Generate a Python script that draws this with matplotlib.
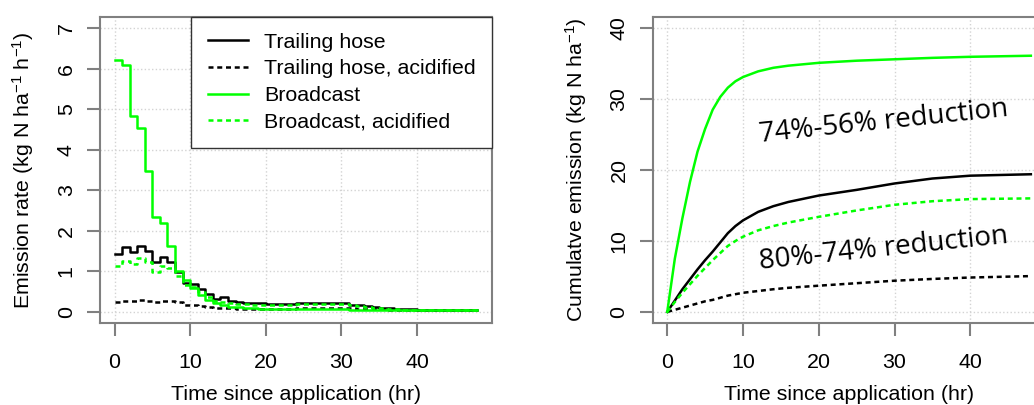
import numpy as np
import matplotlib
matplotlib.use("Agg")
import matplotlib.pyplot as plt

plt.rcParams['font.family'] = ['Liberation Sans', 'DejaVu Sans']
plt.rcParams['mathtext.fontset'] = 'custom'
plt.rcParams['mathtext.rm'] = 'Liberation Sans'
plt.rcParams['mathtext.it'] = 'Liberation Sans:italic'

# Hourly emission rates (kg N / ha / h), hours 0..48
hours = np.arange(49)
trailing = [1.42, 1.59, 1.47, 1.63, 1.51, 1.22, 1.36, 1.22, 0.99, 0.72,
            0.68, 0.56, 0.44, 0.31, 0.36, 0.28, 0.25, 0.23, 0.22, 0.21,
            0.20, 0.20, 0.19, 0.19, 0.21, 0.21, 0.21, 0.21, 0.21, 0.21,
            0.21, 0.18, 0.16, 0.14, 0.12, 0.10, 0.09, 0.08, 0.07, 0.07,
            0.06, 0.06, 0.05, 0.05, 0.05, 0.05, 0.05, 0.05, 0.05]
trailing_acid = [0.25, 0.26, 0.27, 0.30, 0.28, 0.24, 0.27, 0.28, 0.24, 0.18,
                 0.17, 0.15, 0.12, 0.10, 0.10, 0.09, 0.08, 0.08, 0.08, 0.08,
                 0.08, 0.08, 0.08, 0.08, 0.10, 0.10, 0.10, 0.10, 0.10, 0.10,
                 0.10, 0.09, 0.08, 0.08, 0.07, 0.07, 0.06, 0.06, 0.06, 0.05,
                 0.05, 0.05, 0.05, 0.05, 0.05, 0.05, 0.05, 0.05, 0.05]
broadcast = [6.21, 6.08, 4.83, 4.54, 3.48, 2.35, 2.20, 1.63, 1.00, 0.78,
             0.60, 0.42, 0.30, 0.21, 0.16, 0.13, 0.11, 0.10, 0.09, 0.08,
             0.08, 0.07, 0.07, 0.07, 0.07, 0.07, 0.07, 0.07, 0.07, 0.07,
             0.07, 0.06, 0.06, 0.06, 0.05, 0.05, 0.05, 0.05, 0.05, 0.05,
             0.05, 0.05, 0.04, 0.04, 0.04, 0.04, 0.04, 0.04, 0.04]
broadcast_acid = [1.13, 1.26, 1.18, 1.33, 1.22, 0.99, 1.13, 1.09, 0.88, 0.66,
                  0.62, 0.48, 0.36, 0.27, 0.25, 0.22, 0.20, 0.19, 0.18, 0.17,
                  0.17, 0.16, 0.16, 0.16, 0.19, 0.19, 0.19, 0.19, 0.19, 0.19,
                  0.19, 0.16, 0.14, 0.12, 0.10, 0.09, 0.08, 0.07, 0.06, 0.06,
                  0.05, 0.05, 0.05, 0.05, 0.04, 0.04, 0.04, 0.04, 0.04]

# Cumulative emission (kg N / ha)
cum_hours = [0, 1, 2, 3, 4, 5, 6, 7, 8, 9, 10, 12, 14, 16, 20, 25, 30, 35, 40, 48]
cum_trailing = [0, 1.6, 3.2, 4.6, 6.0, 7.3, 8.5, 9.8, 11.1, 12.1, 12.9, 14.1,
                14.9, 15.5, 16.4, 17.2, 18.1, 18.8, 19.2, 19.4]
cum_trailing_acid = [0, 0.3, 0.6, 0.9, 1.2, 1.5, 1.7, 2.0, 2.3, 2.5, 2.7, 2.95,
                     3.2, 3.4, 3.7, 4.05, 4.4, 4.65, 4.85, 5.05]
cum_broadcast = [0, 7.5, 13.2, 18.3, 22.6, 25.8, 28.5, 30.3, 31.6, 32.5, 33.1,
                 33.9, 34.4, 34.7, 35.1, 35.4, 35.6, 35.8, 35.95, 36.1]
cum_broadcast_acid = [0, 1.4, 2.7, 3.9, 5.1, 6.2, 7.3, 8.3, 9.3, 10.0, 10.6,
                      11.5, 12.1, 12.6, 13.4, 14.3, 15.1, 15.6, 15.9, 16.0]

labels = ['Trailing hose', 'Trailing hose, acidified', 'Broadcast', 'Broadcast, acidified']
green = '#00ff00'
dash = (2, 1.5)
lw = 1.8
fs = 15.4

fig = plt.figure(figsize=(10.34, 4.05), dpi=100)
W, H = 1034, 405
ax1 = fig.add_axes([100 / W, 81.7 / H, 392 / W, 306.6 / H])
ax2 = fig.add_axes([652.7 / W, 81.7 / H, 392.7 / W, 306.6 / H])


def style(ax, yticks):
    ax.set_xlim(-1.92, 49.92)
    ax.set_xticks([0, 10, 20, 30, 40])
    ax.set_yticks(yticks)
    ax.grid(True, color='#d3d3d3', linestyle=':', linewidth=1)
    ax.set_axisbelow(True)
    for s in ax.spines.values():
        s.set_color('#808080')
        s.set_linewidth(1.5)
    ax.tick_params(axis='both', length=9.4, width=1.5, color='#808080',
                   labelsize=fs)
    ax.tick_params(axis='x', pad=12)
    ax.tick_params(axis='y', pad=8, labelrotation=90)
    for t in ax.get_yticklabels():
        t.set_verticalalignment('center')
    ax.set_xlabel('Time since application (hr)', fontsize=fs)
    ax.xaxis.set_label_coords(0.5, -0.2)


# Left: emission rates
ax1.plot(hours, trailing, drawstyle='steps-post', color='black', lw=lw, label=labels[0])
ax1.plot(hours, trailing_acid, drawstyle='steps-post', color='black', lw=lw,
         dashes=dash, label=labels[1])
ax1.plot(hours, broadcast, drawstyle='steps-post', color=green, lw=lw, label=labels[2])
ax1.plot(hours, broadcast_acid, drawstyle='steps-post', color=green, lw=lw,
         dashes=dash, label=labels[3])
ax1.set_ylim(-0.28, 7.28)
style(ax1, range(0, 8))
ax1.set_ylabel('Emission rate (kg N ha$^{-1}$ h$^{-1}$)', fontsize=fs)
ax1.yaxis.set_label_coords(-0.163, 0.5)
leg = ax1.legend(loc='upper right', fontsize=fs, frameon=True, fancybox=False,
                 borderaxespad=0, borderpad=0.75, handlelength=1.9,
                 handletextpad=0.75, labelspacing=0.36, framealpha=1)
leg.get_frame().set_edgecolor('#333333')
leg.get_frame().set_linewidth(1.0)

# Right: cumulative emission
ax2.plot(cum_hours, cum_trailing, color='black', lw=lw)
ax2.plot(cum_hours, cum_trailing_acid, color='black', lw=lw, dashes=dash)
ax2.plot(cum_hours, cum_broadcast, color=green, lw=lw)
ax2.plot(cum_hours, cum_broadcast_acid, color=green, lw=lw, dashes=dash)
ax2.set_ylim(-1.6, 41.6)
style(ax2, range(0, 41, 10))
ax2.set_ylabel('Cumulatve emission (kg N ha$^{-1}$)', fontsize=fs)
ax2.yaxis.set_label_coords(-0.162, 0.5)

ax2.text(12.3, 23.9, '74%-56% reduction', fontsize=20, family='Open Sans',
         rotation=6, rotation_mode='anchor', ha='left', va='baseline')
ax2.text(12.3, 6.0, '80%-74% reduction', fontsize=20, family='Open Sans',
         rotation=6, rotation_mode='anchor', ha='left', va='baseline')

fig.savefig('out.png', dpi=100)
